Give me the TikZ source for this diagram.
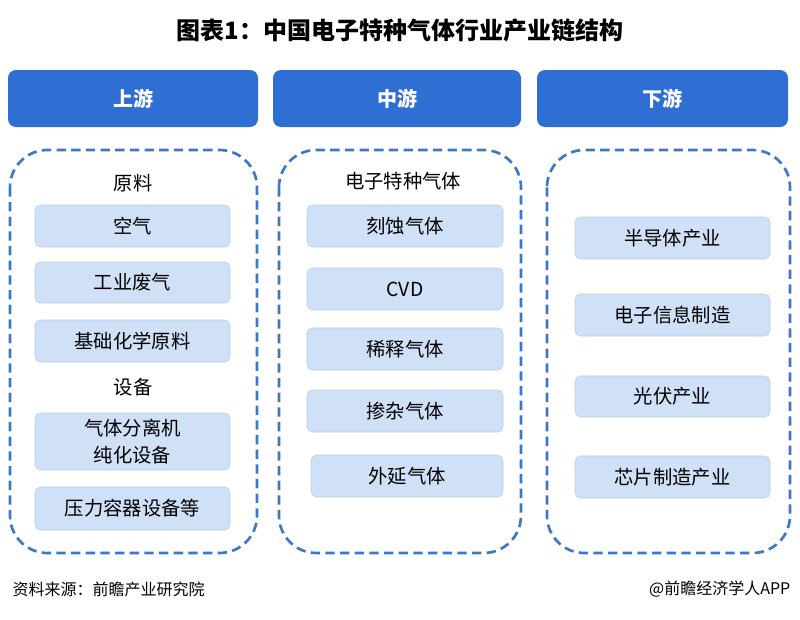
\documentclass[tikz,border=0pt]{standalone}
\usepackage{fontspec}
\setmainfont{Noto Sans CJK SC}
\usetikzlibrary{positioning}
\definecolor{headblue}{HTML}{2F6FD3}
\definecolor{dashblue}{HTML}{3D78C4}
\definecolor{itemfill}{HTML}{CFE0F7}
\definecolor{itemline}{HTML}{B4CDEE}
\begin{document}
\begin{tikzpicture}[x=0.75pt,y=-0.75pt,
    head/.style={fill=headblue,rounded corners=6pt},
    headtext/.style={text=white,font=\fontsize{15}{18}\selectfont\bfseries},
    frame/.style={draw=dashblue,line width=2pt,dash pattern=on 7pt off 4pt,rounded corners=28pt},
    item/.style={fill=itemfill,draw=itemline,rounded corners=4pt},
    itemtext/.style={font=\fontsize{14.5}{20}\selectfont,align=center},
    label/.style={font=\fontsize{14.5}{18}\selectfont}
]
\useasboundingbox (0,0) rectangle (800,619);
\node[font=\fontsize{18}{20}\selectfont\bfseries] (title) at (400,30) {图表1：中国电子特种气体行业产业链结构};

% headers
\path[head] (8,70) rectangle (258,127);
\path[head] (273,70) rectangle (521,127);
\path[head] (537,70) rectangle (788,127);
\node[headtext] (up) at (133,99) {上游};
\node[headtext] (mid) at (397,99) {中游};
\node[headtext] (down) at (662,99) {下游};

% dashed frames
\draw[frame] (10,150) rectangle (257,553);
\draw[frame] (279,150) rectangle (521,553);
\draw[frame] (547,150) rectangle (790,553);

% upstream
\node[label] (raw) at (133,183) {原料};
\draw[item] (35,205) rectangle (230,247) node[midway,itemtext] (air) {空气};
\draw[item] (35,262) rectangle (230,303) node[midway,itemtext] (waste) {工业废气};
\draw[item] (35,320) rectangle (230,362) node[midway,itemtext] (chem) {基础化学原料};
\node[label] (equip) at (133,387) {设备};
\draw[item] (35,413) rectangle (230,470) node[midway,itemtext] (sep) {气体分离机\\纯化设备};
\draw[item] (35,487) rectangle (230,530) node[midway,itemtext] (tank) {压力容器设备等};

% midstream
\node[label] (gas) at (403,181) {电子特种气体};
\draw[item] (307,205) rectangle (503,247) node[midway,itemtext] (etch) {刻蚀气体};
\draw[item] (307,268) rectangle (503,310) node[midway,itemtext] (cvd) {CVD};
\draw[item] (307,328) rectangle (503,370) node[midway,itemtext] (dil) {稀释气体};
\draw[item] (307,390) rectangle (503,432) node[midway,itemtext] (dope) {掺杂气体};
\draw[item] (311,455) rectangle (503,497) node[midway,itemtext] (epi) {外延气体};

% downstream
\draw[item] (575,217) rectangle (770,259) node[midway,itemtext] (semi) {半导体产业};
\draw[item] (575,294) rectangle (770,336) node[midway,itemtext] (elec) {电子信息制造};
\draw[item] (575,376) rectangle (770,417) node[midway,itemtext] (pv) {光伏产业};
\draw[item] (575,456) rectangle (770,498) node[midway,itemtext] (chip) {芯片制造产业};

% footer
\node[anchor=west,font=\fontsize{12}{14}\selectfont] (src) at (8,589) {资料来源：前瞻产业研究院};
\node[anchor=east,font=\fontsize{12}{14}\selectfont] (app) at (795,589) {@前瞻经济学人APP};
\end{tikzpicture}
\end{document}
